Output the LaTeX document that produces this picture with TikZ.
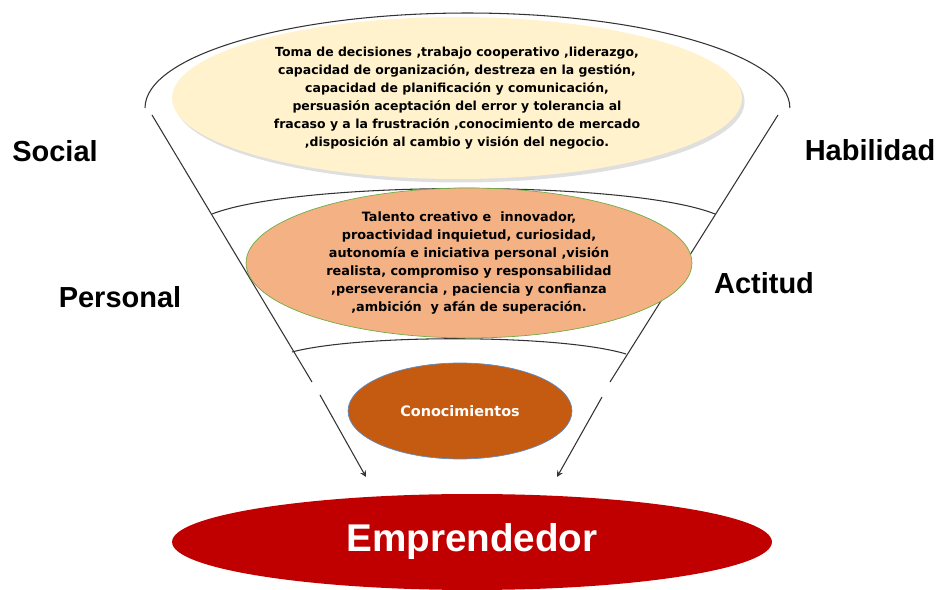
\documentclass[tikz,border=0pt]{standalone}
\usepackage{fontspec}
\setmainfont{DejaVu Sans}
\newfontfamily\labelfont{Liberation Sans}
\usepackage{tikz}
\usetikzlibrary{shapes.geometric, arrows, positioning, shadows}
\definecolor{creamfill}{HTML}{FFF2CC}
\definecolor{peachfill}{HTML}{F4B183}
\definecolor{peachline}{HTML}{70AD47}
\definecolor{rustfill}{HTML}{C55A11}
\definecolor{rustline}{HTML}{5B8DC9}
\definecolor{emprred}{HTML}{C00000}
\tikzstyle{skills} = [ellipse, minimum width=11.4cm, minimum height=3.24cm, inner sep=-10pt, fill=creamfill, align=center, font=\fontsize{7.1}{10.3}\selectfont\bfseries, drop shadow={opacity=0.25, shadow xshift=1.5pt, shadow yshift=-2pt}]
\tikzstyle{attitude} = [ellipse, minimum width=8.92cm, minimum height=3cm, inner sep=-10pt, fill=peachfill, draw=peachline, line width=0.4pt, align=center, font=\fontsize{7.3}{10.3}\selectfont\bfseries]
\tikzstyle{knowledge} = [ellipse, minimum width=4.48cm, minimum height=1.92cm, inner sep=-4pt, fill=rustfill, draw=rustline, line width=0.4pt, text=white, font=\fontsize{8.2}{9}\selectfont\bfseries]
\tikzstyle{goal} = [ellipse, minimum width=12cm, minimum height=1.92cm, inner sep=-4pt, fill=emprred, text=white, font=\labelfont\bfseries\fontsize{22}{24}\selectfont]
\tikzstyle{side} = [font=\labelfont\bfseries\fontsize{16.5}{18}\selectfont]
\tikzstyle{funnel} = [draw=black!80, line width=0.6pt]
\tikzstyle{arrow} = [draw=black!80, line width=0.6pt, ->, >=stealth]

\begin{document}
\begin{tikzpicture}[x=0.02cm, y=-0.02cm]
        \useasboundingbox (0,0) rectangle (943,590);

        % funnel outline
        \draw[funnel] (145,108) arc[start angle=180, end angle=0, x radius=6.45cm, y radius=1.9cm];
        \draw[funnel] (212,214) .. controls (300,180) and (630,180) .. (715,214);
        \draw[funnel] (292,352) .. controls (360,334) and (560,334) .. (626,354);
        \draw[funnel] (152,115) -- (312,382);
        \draw[funnel] (778,115) -- (610,382);

        \node (skills) [skills] at (457,98) {Toma de decisiones ,trabajo cooperativo ,liderazgo,\\capacidad de organización, destreza en la gestión,\\capacidad de planificación y comunicación,\\persuasión aceptación del error y tolerancia al\\fracaso y a la frustración ,conocimiento de mercado\\,disposición al cambio y visión del negocio.};
        \node (attitude) [attitude] at (469,263) {Talento creativo e\ \ innovador,\\proactividad inquietud, curiosidad,\\autonomía e iniciativa personal ,visión\\realista, compromiso y responsabilidad\\,perseverancia , paciencia y confianza\\,ambición\ \ y afán de superación.};
        \node (know) [knowledge] at (460,411) {Conocimientos};
        \node (goal) [goal] at (472,542) {Emprendedor};

        \node (social) [side] at (55,151) {Social};
        \node (habilidad) [side] at (870,150) {Habilidad};
        \node (personal) [side] at (120,297) {Personal};
        \node (actitud) [side] at (764,283) {Actitud};

        \coordinate (ltail) at (320,395);
        \coordinate (lhead) at (366,477);
        \coordinate (rtail) at (602,397);
        \coordinate (rhead) at (557,477);

        % Draw edges
        \path [arrow] (ltail) -- (lhead);
        \path [arrow] (rtail) -- (rhead);

\end{tikzpicture}
\end{document}
